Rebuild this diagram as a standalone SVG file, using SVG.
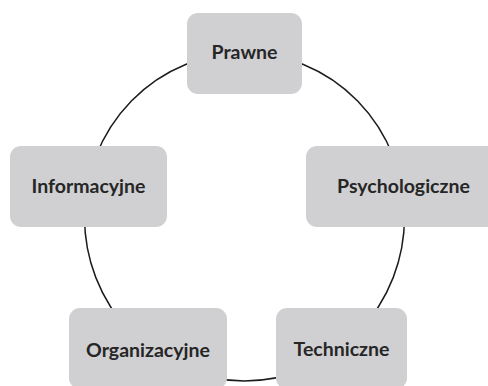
<svg xmlns="http://www.w3.org/2000/svg" width="488" height="386" viewBox="0 0 488 386">
  <style>
    .box { fill: #D0D0D2; }
    .lbl { font-family: "Lato", "Noto Sans", "Liberation Sans", sans-serif; font-weight: bold; font-size: 19.5px; fill: #262626; text-anchor: middle; }
    .ring { fill: none; stroke: #1c1c1c; stroke-width: 1.5; }
  </style>
  <rect width="488" height="386" fill="#FFFFFF"/>
  <g id="connectors">
    <ellipse class="ring" cx="244.5" cy="217" rx="160" ry="164"/>
  </g>
  <g id="node-prawne">
    <rect class="box" x="187" y="13" width="115" height="81" rx="11"/>
    <text class="lbl" x="244.5" y="59">Prawne</text>
  </g>
  <g id="node-informacyjne">
    <rect class="box" x="10" y="146" width="157" height="81" rx="11"/>
    <text class="lbl" x="88.5" y="193">Informacyjne</text>
  </g>
  <g id="node-psychologiczne">
    <rect class="box" x="306" y="146" width="195" height="81" rx="11"/>
    <text class="lbl" x="403.5" y="193">Psychologiczne</text>
  </g>
  <g id="node-organizacyjne">
    <rect class="box" x="69" y="308" width="158" height="81" rx="11"/>
    <text class="lbl" x="148" y="357">Organizacyjne</text>
  </g>
  <g id="node-techniczne">
    <rect class="box" x="276" y="308" width="131" height="81" rx="11"/>
    <text class="lbl" x="341.5" y="356">Techniczne</text>
  </g>
</svg>
